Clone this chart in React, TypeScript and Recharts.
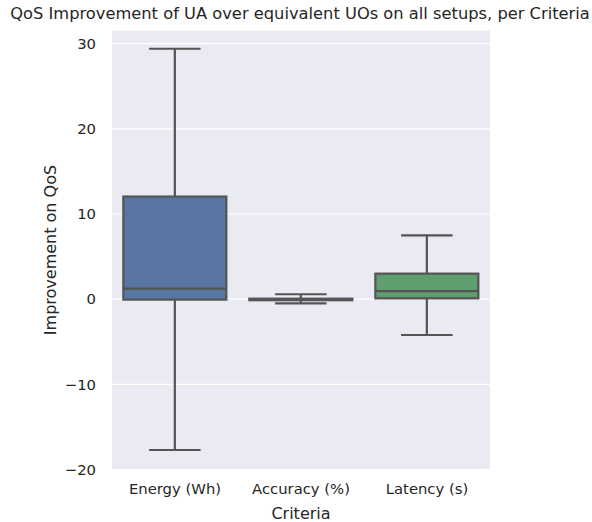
import { ComposedChart, Bar, XAxis, YAxis, CartesianGrid } from "recharts";

const criteria = ["Energy (Wh)", "Accuracy (%)", "Latency (s)"];
const whiskerLow = [-17.7, -0.5, -4.2];
const q1 = [-0.05, -0.12, 0.1];
const median = [1.25, 0.0, 0.95];
const q3 = [12.05, 0.06, 3.0];
const whiskerHigh = [29.4, 0.58, 7.5];
const yTicks = [-20, -10, 0, 10, 20, 30];

const boxColors = ["#5975a4", "#cc8963", "#5f9e6e"];
const lineColor = "#545454";
const font = "DejaVu Sans";

const rows = criteria.map((name, i) => ({
  name,
  range: [whiskerLow[i], whiskerHigh[i]],
  low: whiskerLow[i],
  q1: q1[i],
  median: median[i],
  q3: q3[i],
  high: whiskerHigh[i],
  color: boxColors[i],
}));

function BoxShape(props: any) {
  const { x, y, width, height, payload } = props;
  const top = Math.min(y, y + height);
  const h = Math.abs(height);
  const span = payload.high - payload.low;
  const py = (v: number) => top + (h * (payload.high - v)) / span;
  const cx = x + width / 2;
  const capHalf = width / 4;
  const sw = 2.2;
  return (
    <g>
      <line x1={cx} x2={cx} y1={py(payload.high)} y2={py(payload.q3)} stroke={lineColor} strokeWidth={sw} />
      <line x1={cx} x2={cx} y1={py(payload.q1)} y2={py(payload.low)} stroke={lineColor} strokeWidth={sw} />
      <line x1={cx - capHalf} x2={cx + capHalf} y1={py(payload.high)} y2={py(payload.high)} stroke={lineColor} strokeWidth={sw} />
      <line x1={cx - capHalf} x2={cx + capHalf} y1={py(payload.low)} y2={py(payload.low)} stroke={lineColor} strokeWidth={sw} />
      <rect
        x={x}
        y={py(payload.q3)}
        width={width}
        height={Math.max(py(payload.q1) - py(payload.q3), 0.5)}
        fill={payload.color}
        stroke={lineColor}
        strokeWidth={sw}
      />
      <line x1={x} x2={x + width} y1={py(payload.median)} y2={py(payload.median)} stroke={lineColor} strokeWidth={sw} />
    </g>
  );
}

const fmt = (v: number) => (v < 0 ? "\u2212" + Math.abs(v) : String(v));

export default function App() {
  return (
    <div style={{ position: "absolute", left: 0, top: 0, fontFamily: font }}>
      <div
        style={{
          position: "absolute",
          left: 0,
          width: 600,
          top: 4,
          textAlign: "center",
          fontSize: 16.3,
          color: "#262626",
          whiteSpace: "nowrap",
        }}
      >
        QoS Improvement of UA over equivalent UOs on all setups, per Criteria
      </div>
      <ComposedChart
        width={592}
        height={522}
        data={rows}
        margin={{ top: 30, right: 102, bottom: 0, left: 0 }}
        barCategoryGap="9%"
      >
        <CartesianGrid vertical={false} stroke="#ffffff" strokeWidth={1.2} fill="#eaeaf2" fillOpacity={1} />
        <XAxis
          dataKey="name"
          height={52}
          axisLine={false}
          tickLine={false}
          tickSize={0}
          tickMargin={13}
          tick={{ fill: "#262626", fontSize: 14.8, fontFamily: font }}
          label={{
            value: "Criteria",
            position: "insideBottom",
            offset: 3,
            style: { fill: "#262626", fontSize: 16, fontFamily: font },
          }}
        />
        <YAxis
          width={112}
          domain={[-20.05, 31.6]}
          ticks={yTicks}
          allowDataOverflow
          axisLine={false}
          tickLine={false}
          tickSize={0}
          tickMargin={16}
          tickFormatter={fmt}
          tick={{ fill: "#262626", fontSize: 14.8, fontFamily: font }}
          label={{
            value: "Improvement on QoS",
            angle: -90,
            position: "insideLeft",
            offset: 50,
            style: { textAnchor: "middle", fill: "#262626", fontSize: 16, fontFamily: font },
          }}
        />
        <Bar dataKey="range" shape={<BoxShape />} isAnimationActive={false} />
      </ComposedChart>
    </div>
  );
}
